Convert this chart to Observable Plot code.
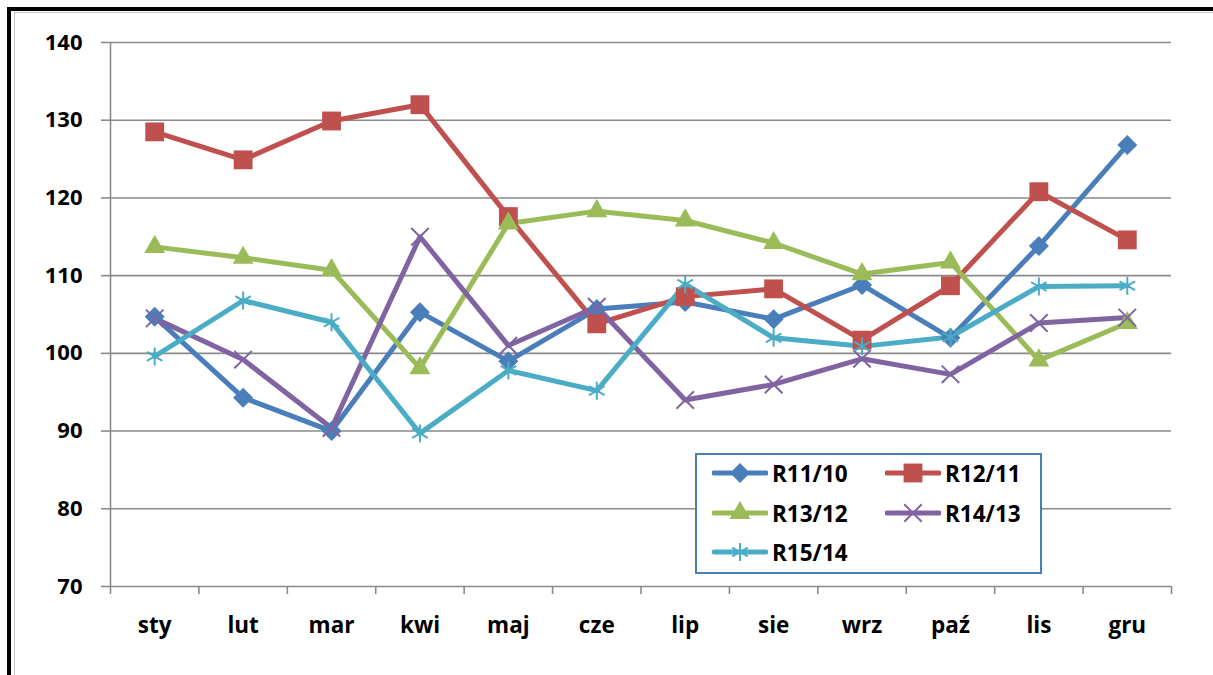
<!DOCTYPE html>
<html>
<head>
<meta charset="utf-8">
<script src="https://cdn.jsdelivr.net/npm/d3@7"></script>
<script src="https://cdn.jsdelivr.net/npm/@observablehq/plot@0.6"></script>
<style>
  html, body { margin: 0; padding: 0; background: #fff; }
  #wrap { position: relative; width: 1213px; height: 675px; overflow: hidden; font-family: "Open Sans", sans-serif; }
  .frame { position: absolute; background: #000; }
  .inner { position: absolute; background: #c8c8c8; }
  #legend { position: absolute; left: 695px; top: 453px; width: 343px; height: 117px; border: 2px solid #4a7ebb; background: #fff; }
  .item { position: absolute; display: flex; align-items: center; font-weight: 700; font-size: 22.5px; color: #000; }
  .item svg { margin-right: 4px; }
</style>
</head>
<body>
<div id="wrap">
  <div id="chart"></div>
  <div class="frame" style="left:7px;top:7px;width:4px;height:668px"></div>
  <div class="frame" style="left:7px;top:7px;width:1206px;height:4px"></div>
  <div class="inner" style="left:14px;top:12px;width:1px;height:663px"></div>
  <div class="inner" style="left:14px;top:12px;width:1199px;height:1px"></div>
  <div id="legend"></div>
</div>
<script>
const months = ["sty", "lut", "mar", "kwi", "maj", "cze", "lip", "sie", "wrz", "paź", "lis", "gru"];
const seriesNames = ["R11/10", "R12/11", "R13/12", "R14/13", "R15/14"];
const seriesColors = ["#4a7ebb", "#c0504d", "#9bbb59", "#8064a2", "#4bacc6"];
const seriesSymbols = ["diamond2", "square2", "triangle2", "times", "asterisk"];
const r11_10 = [104.7, 94.3, 90.0, 105.3, 99.0, 105.7, 106.6, 104.4, 108.8, 102.0, 113.8, 126.8];
const r12_11 = [128.5, 124.9, 129.9, 132.0, 117.6, 103.8, 107.3, 108.3, 101.7, 108.7, 120.8, 114.6];
const r13_12 = [113.7, 112.3, 110.7, 98.1, 116.7, 118.3, 117.1, 114.2, 110.2, 111.7, 99.1, 103.9];
const r14_13 = [104.5, 99.2, 90.4, 115.0, 101.0, 106.0, 94.0, 96.0, 99.3, 97.3, 103.9, 104.6];
const r15_14 = [99.6, 106.8, 104.0, 89.7, 97.8, 95.2, 108.9, 102.0, 100.9, 102.1, 108.6, 108.7];
const yTicks = [70, 80, 90, 100, 110, 120, 130, 140];

const seriesValues = [r11_10, r12_11, r13_12, r14_13, r15_14];
const table = seriesNames.flatMap((name, s) => seriesValues[s].map((v, i) => ({series: name, i, value: v})));
const boundaries = d3.range(13).map(k => k - 0.5);

const dotStyles = [
  {r: 9, fill: seriesColors[0], stroke: "none"},
  {r: 12, fill: seriesColors[1], stroke: "none"},
  {r: 10, fill: seriesColors[2], stroke: "none"},
  {r: 8, fill: "none", stroke: seriesColors[3], strokeWidth: 2},
  {r: 8.5, fill: "none", stroke: seriesColors[4], strokeWidth: 2}
];

const marks = [
  Plot.ruleY(yTicks, {stroke: "#8a8a8a", strokeWidth: 1.6}),
  Plot.axisY({ticks: yTicks, tickSize: 9, tickPadding: 19, stroke: "#8a8a8a", strokeWidth: 1.6,
    fontSize: 22, fontWeight: "bold", fill: "#000", label: null}),
  Plot.ruleX([-0.5], {y1: 70, y2: 140, stroke: "#8a8a8a", strokeWidth: 1.6}),
  Plot.axisX({ticks: boundaries, tickSize: 8, tickFormat: () => "", stroke: "#8a8a8a", strokeWidth: 1.6, label: null}),
  Plot.axisX({ticks: d3.range(12), tickSize: 0, tickPadding: 31, tickFormat: i => months[i],
    fontSize: 22.5, fontWeight: "bold", fill: "#000", label: null})
];
seriesNames.forEach((name, s) => {
  marks.push(Plot.line(table.filter(d => d.series === name), {x: "i", y: "value", stroke: seriesColors[s], strokeWidth: 5}));
});
seriesNames.forEach((name, s) => {
  marks.push(Plot.dot(table.filter(d => d.series === name), {x: "i", y: "value", symbol: seriesSymbols[s], ...dotStyles[s]}));
});

const chart = Plot.plot({
  width: 1213,
  height: 675,
  marginLeft: 110,
  marginRight: 42,
  marginTop: 42,
  marginBottom: 89,
  style: {fontFamily: "'Open Sans', sans-serif", background: "transparent", overflow: "visible"},
  x: {type: "linear", domain: [-0.5, 11.5]},
  y: {domain: [70, 140]},
  marks
});
document.getElementById("chart").appendChild(chart);

// legend
const legend = document.getElementById("legend");
const pos = [[15, 1], [188, 1], [15, 41], [188, 41], [15, 80]];
seriesNames.forEach((name, s) => {
  const item = document.createElement("div");
  item.className = "item";
  item.style.left = pos[s][0] + "px";
  item.style.top = pos[s][1] + "px";
  item.style.height = "34px";
  const sw = d3.create("svg").attr("width", 56).attr("height", 34);
  sw.append("line").attr("x1", 2).attr("x2", 54).attr("y1", 17).attr("y2", 17)
    .attr("stroke", seriesColors[s]).attr("stroke-width", 5).attr("stroke-linecap", "round");
  const symMap = {diamond2: d3.symbolDiamond2, square2: d3.symbolSquare2, triangle2: d3.symbolTriangle2, times: d3.symbolTimes, asterisk: d3.symbolAsterisk};
  const st = dotStyles[s];
  sw.append("path").attr("transform", "translate(28,17)")
    .attr("d", d3.symbol(symMap[seriesSymbols[s]], Math.PI * st.r * st.r)())
    .attr("fill", st.fill).attr("stroke", st.stroke).attr("stroke-width", st.strokeWidth || 0);
  item.appendChild(sw.node());
  const t = document.createElement("span");
  t.textContent = name;
  item.appendChild(t);
  legend.appendChild(item);
});
</script>
</body>
</html>
